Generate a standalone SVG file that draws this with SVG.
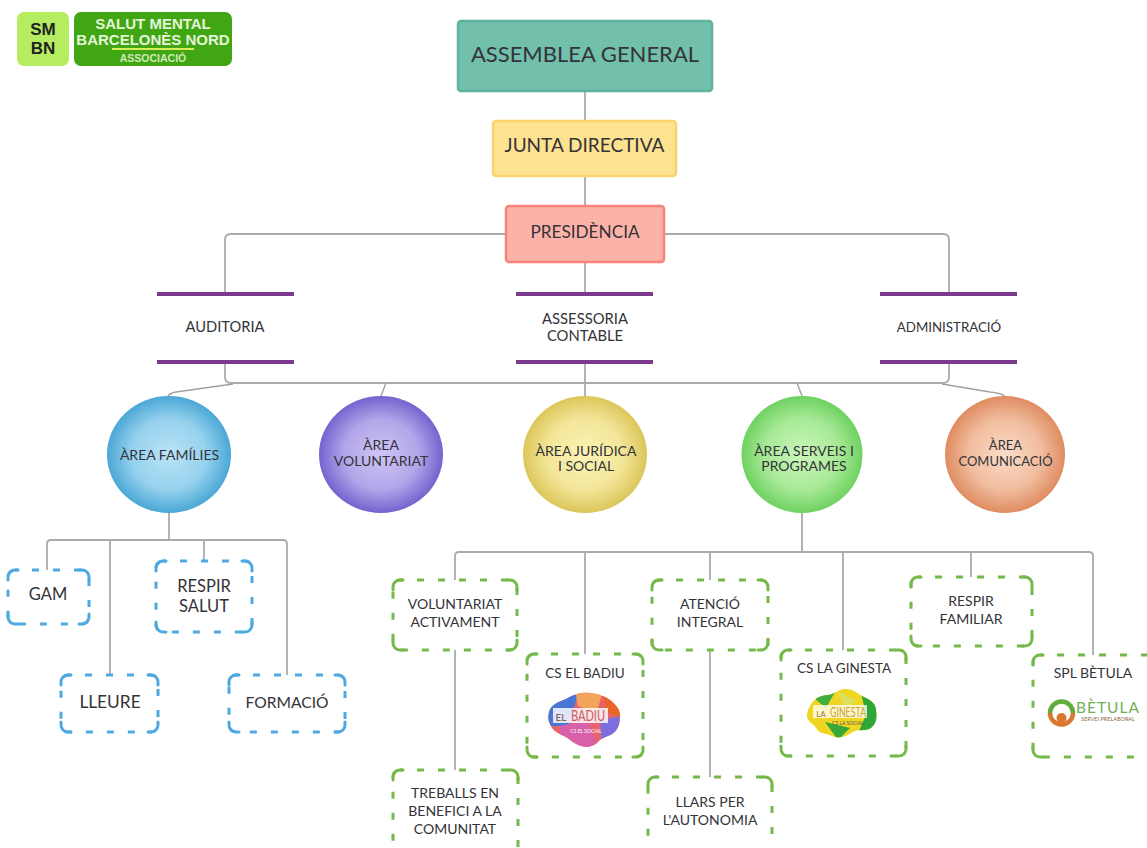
<svg xmlns="http://www.w3.org/2000/svg" width="1147" height="848" viewBox="0 0 1147 848">
<style>
text{font-family:"Lato","Open Sans","Liberation Sans",sans-serif;fill:#333338;text-anchor:middle}
.conn{fill:none;stroke:#ababab;stroke-width:1.8}
.thin{fill:none;stroke:#a0a0a0;stroke-width:1.4}
.bar{stroke:#7b3a8c;stroke-width:4}
.d{fill:#fff;stroke-width:3;stroke-dasharray:7 14;stroke-dashoffset:-17}
.c{fill:none;stroke-width:3;stroke-linecap:round}
.b{stroke:#4ea9e2}
.g{stroke:#74b94a}
.t14{font-size:14px}
.t16{font-size:16.5px}
.la{font-family:"Liberation Sans",Arial,sans-serif;font-weight:700}
</style>
<defs>
<radialGradient id="gb"><stop offset="0" stop-color="#b9e3f6"/><stop offset=".6" stop-color="#96d2ee"/><stop offset="1" stop-color="#4ba7d6"/></radialGradient>
<radialGradient id="gv"><stop offset="0" stop-color="#cfc5f5"/><stop offset=".6" stop-color="#b2a5e9"/><stop offset="1" stop-color="#7563cf"/></radialGradient>
<radialGradient id="gy"><stop offset="0" stop-color="#fbf3b4"/><stop offset=".6" stop-color="#f3e69a"/><stop offset="1" stop-color="#dcc65a"/></radialGradient>
<radialGradient id="gg"><stop offset="0" stop-color="#caf5bb"/><stop offset=".6" stop-color="#a9ea98"/><stop offset="1" stop-color="#6fd161"/></radialGradient>
<radialGradient id="go"><stop offset="0" stop-color="#fbdcc9"/><stop offset=".6" stop-color="#f1bd9f"/><stop offset="1" stop-color="#df8c60"/></radialGradient>
<clipPath id="cb"><path d="M549 712c2-8 10-10 17-13 7-4 14-7 24-6 9 1 14 3 20 7 6 5 10 9 10 16 0 8-2 14-8 18-5 3-9 3-13 7-4 5-12 7-18 5-7-2-11-7-17-10-7-3-12-6-14-12-2-4-2-8-1-12z"/></clipPath>
<clipPath id="cg"><path d="M810 706c3-6 9-11 18-11 7-1 11-7 19-6 8 1 11 5 17 8 7 3 12 7 12 13 1 7 1 13-5 18-6 4-14 0-20 5-6 4-12 6-19 3-7-3-13-2-16-8-3-5-9-6-9-12 0-4 1-7 3-10z"/></clipPath>
</defs>

<g id="logo">
<rect x="17" y="12" width="52" height="54" rx="7" fill="#b6ec60"/>
<rect x="74" y="12" width="158" height="54" rx="7" fill="#40a613"/>
<text class="la" x="43" y="35" style="font-size:17px;fill:#222">SM</text>
<text class="la" x="43" y="54" style="font-size:17px;fill:#222">BN</text>
<text class="la" x="153" y="29" style="font-size:15px;fill:#e6f5d8">SALUT MENTAL</text>
<text class="la" x="153" y="45" style="font-size:15px;fill:#e6f5d8">BARCELONÈS NORD</text>
<rect x="112" y="48" width="82" height="2" fill="#d6ee5a"/>
<text class="la" x="153" y="62" style="font-size:10.500px;fill:#cfe9b8">ASSOCIACIÓ</text>
</g>

<g id="connectors">
<path class="conn" d="M585 91V121M585 176V206M585 262V294M585 362V397"/>
<path class="conn" d="M506 234H231Q225 234 225 240V294M664 234H943Q949 234 949 240V294"/>
<path class="conn" d="M225 362V377Q225 383 231 383H943Q949 383 949 377V362"/>
<path class="thin" d="M233 384L176 392Q170 393 168 396M386 383L381 396M797 383L802 396M942 384L990 392Q1000 393 1005 396"/>
<path class="conn" d="M169 513V540M47 570V544Q47 540 51 540H283Q287 540 287 544V675M110 540V675M204 540V561"/>
<path class="conn" d="M802 513V552M455 580V556Q455 552 459 552H1089Q1093 552 1093 556V655M585 552V654M710 552V580M843 552V650M971 552V577M455 650V770M710 650V777"/>
</g>

<g id="assemblea"><rect x="458" y="21" width="254" height="70" rx="3" fill="#72bfac" stroke="#5fb29e" stroke-width="2.5"/><text x="585" y="62" style="font-size:22px">ASSEMBLEA GENERAL</text></g>
<g id="junta"><rect x="493" y="121" width="183" height="55" rx="3" fill="#fde28f" stroke="#fad36f" stroke-width="2.5"/><text x="584.500" y="152" style="font-size:19px">JUNTA DIRECTIVA</text></g>
<g id="presidencia"><rect x="506" y="206" width="158" height="56" rx="3" fill="#fdb2a8" stroke="#f8837a" stroke-width="2.5"/><text x="585" y="238" style="font-size:17.200px">PRESIDÈNCIA</text></g>

<g id="auditoria"><path class="bar" d="M157 294H294M157 362H294"/><text x="225" y="332" style="font-size:14.700px">AUDITORIA</text></g>
<g id="assessoria"><path class="bar" d="M516 294H653M516 362H653"/><text x="585" y="324" style="font-size:14.800px">ASSESSORIA</text><text x="585" y="341" style="font-size:14.800px">CONTABLE</text></g>
<g id="administracio"><path class="bar" d="M880 294H1017M880 362H1017"/><text x="949" y="332" style="font-size:13.300px">ADMINISTRACIÓ</text></g>

<g id="area-families"><ellipse cx="169" cy="454.500" rx="62" ry="58.500" fill="url(#gb)"/><text class="t14" x="169.500" y="460">ÀREA FAMÍLIES</text></g>
<g id="area-voluntariat"><ellipse cx="381" cy="454.500" rx="62" ry="58.500" fill="url(#gv)"/><text class="t14" x="381" y="450">ÀREA</text><text class="t14" x="381" y="466">VOLUNTARIAT</text></g>
<g id="area-juridica"><ellipse cx="585" cy="454.500" rx="62" ry="58.500" fill="url(#gy)"/><text class="t14" x="586" y="456">ÀREA JURÍDICA</text><text class="t14" x="586" y="471">I SOCIAL</text></g>
<g id="area-serveis"><ellipse cx="802" cy="454.500" rx="60.500" ry="58.500" fill="url(#gg)"/><text class="t14" x="804" y="456">ÀREA SERVEIS I</text><text class="t14" x="804" y="471">PROGRAMES</text></g>
<g id="area-comunicacio"><ellipse cx="1005" cy="454.500" rx="60" ry="58.500" fill="url(#go)"/><text x="1005.500" y="450" style="font-size:13px">ÀREA</text><text x="1005.500" y="466" style="font-size:13px">COMUNICACIÓ</text></g>

<g id="gam"><rect class="d b" x="8" y="570" width="81" height="54" rx="7"/><path class="c b" d="M8 580V577A7 7 0 0 1 15 570H18M79 570H82A7 7 0 0 1 89 577V580M89 614V617A7 7 0 0 1 82 624H79M18 624H15A7 7 0 0 1 8 617V614"/><text class="t16" x="48" y="600">GAM</text></g>
<g id="respir-salut"><rect class="d b" x="156" y="561" width="96" height="71" rx="7"/><path class="c b" d="M156 571V568A7 7 0 0 1 163 561H166M242 561H245A7 7 0 0 1 252 568V571M252 622V625A7 7 0 0 1 245 632H242M166 632H163A7 7 0 0 1 156 625V622"/><text class="t16" x="204" y="592">RESPIR</text><text class="t16" x="204" y="612">SALUT</text></g>
<g id="lleure"><rect class="d b" x="61" y="675" width="97" height="57" rx="7"/><path class="c b" d="M61 685V682A7 7 0 0 1 68 675H71M148 675H151A7 7 0 0 1 158 682V685M158 722V725A7 7 0 0 1 151 732H148M71 732H68A7 7 0 0 1 61 725V722"/><text x="110" y="708" style="font-size:17.300px">LLEURE</text></g>
<g id="formacio"><rect class="d b" x="229" y="675" width="116" height="57" rx="7"/><path class="c b" d="M229 685V682A7 7 0 0 1 236 675H239M335 675H338A7 7 0 0 1 345 682V685M345 722V725A7 7 0 0 1 338 732H335M239 732H236A7 7 0 0 1 229 725V722"/><text x="287" y="708" style="font-size:15.600px">FORMACIÓ</text></g>

<g id="voluntariat-activament"><rect class="d g" x="393" y="580" width="124" height="70" rx="7"/><path class="c g" d="M393 590V587A7 7 0 0 1 400 580H403M507 580H510A7 7 0 0 1 517 587V590M517 640V643A7 7 0 0 1 510 650H507M403 650H400A7 7 0 0 1 393 643V640"/><text class="t14" x="455" y="609">VOLUNTARIAT</text><text class="t14" x="455" y="627">ACTIVAMENT</text></g>
<g id="treballs"><rect class="d g" x="393" y="770" width="125" height="95" rx="7"/><path class="c g" d="M393 780V777A7 7 0 0 1 400 770H403M508 770H511A7 7 0 0 1 518 777V780"/><text class="t14" x="455" y="798">TREBALLS EN</text><text class="t14" x="455" y="816">BENEFICI A LA</text><text class="t14" x="455" y="834">COMUNITAT</text></g>

<g id="cs-badiu"><rect class="d g" x="527" y="654" width="116" height="103" rx="7"/><path class="c g" d="M527 664V661A7 7 0 0 1 534 654H537M633 654H636A7 7 0 0 1 643 661V664M643 747V750A7 7 0 0 1 636 757H633M537 757H534A7 7 0 0 1 527 750V747"/><text x="585" y="678" style="font-size:13.500px">CS EL BADIU</text>
<g clip-path="url(#cb)"><rect x="545" y="690" width="80" height="60" fill="#e8636e"/><path d="M548 695H578L568 726H545z" fill="#4a76d6"/><path d="M575 690H603L597 712 578 706z" fill="#f2a45c"/><path d="M602 690H625V720L606 712z" fill="#e9662a"/><path d="M560 726L588 720 598 750H560z" fill="#d860a8"/><path d="M600 720L622 716 615 748H602z" fill="#7d6ee0"/></g>
<rect x="553" y="708" width="55" height="15" fill="#fff" fill-opacity=".82"/><text x="561" y="721" style="font-size:10px;fill:#7b4a3a">EL</text><text x="588" y="721" textLength="34" lengthAdjust="spacingAndGlyphs" style="font-size:15px;fill:#c75a6a">BADIU</text><text x="586" y="733" style="font-size:5px;fill:#fff">CS EL SOCIAL</text></g>

<g id="atencio-integral"><rect class="d g" x="652" y="580" width="116" height="70" rx="7"/><path class="c g" d="M652 590V587A7 7 0 0 1 659 580H662M758 580H761A7 7 0 0 1 768 587V590M768 640V643A7 7 0 0 1 761 650H758M662 650H659A7 7 0 0 1 652 643V640"/><text class="t14" x="710" y="609">ATENCIÓ</text><text class="t14" x="710" y="627">INTEGRAL</text></g>
<g id="llars"><rect class="d g" x="648" y="777" width="124" height="90" rx="7"/><path class="c g" d="M648 787V784A7 7 0 0 1 655 777H658M762 777H765A7 7 0 0 1 772 784V787"/><text class="t14" x="710" y="807">LLARS PER</text><text class="t14" x="710" y="825">L'AUTONOMIA</text></g>

<g id="cs-ginesta"><rect class="d g" x="781" y="650" width="125" height="106" rx="7"/><path class="c g" d="M781 660V657A7 7 0 0 1 788 650H791M896 650H899A7 7 0 0 1 906 657V660M906 746V749A7 7 0 0 1 899 756H896M791 756H788A7 7 0 0 1 781 749V746"/><text x="844" y="673" style="font-size:13.500px">CS LA GINESTA</text>
<g clip-path="url(#cg)"><rect x="800" y="685" width="85" height="55" fill="#f0d622"/><path d="M860 688H880V740H855L866 715z" fill="#2da838"/><path d="M810 695L835 692 826 708z" fill="#3fae3a"/><path d="M825 722L850 728 838 740z" fill="#38a838"/><path d="M838 692L856 700 845 710z" fill="#dbe05a"/></g>
<rect x="813" y="705" width="54" height="13" fill="#fff" fill-opacity=".75"/><text x="821" y="717" style="font-size:8px;fill:#9a7a3a">LA</text><text x="848" y="717" textLength="36" lengthAdjust="spacingAndGlyphs" style="font-size:13.500px;fill:#c9a23a">GINESTA</text><text x="848" y="725" style="font-size:5px;fill:#555">CS LA SOCIAL</text></g>

<g id="respir-familiar"><rect class="d g" x="911" y="577" width="121" height="69" rx="7"/><path class="c g" d="M911 587V584A7 7 0 0 1 918 577H921M1022 577H1025A7 7 0 0 1 1032 584V587M1032 636V639A7 7 0 0 1 1025 646H1022M921 646H918A7 7 0 0 1 911 639V636"/><text class="t14" x="971" y="606">RESPIR</text><text class="t14" x="971" y="624">FAMILIAR</text></g>

<g id="spl-betula"><rect class="d g" x="1033" y="655" width="130" height="102" rx="7"/><path class="c g" d="M1033 665V662A7 7 0 0 1 1040 655H1043M1043 757H1040A7 7 0 0 1 1033 750V747"/><text x="1093" y="678" style="font-size:14px">SPL BÈTULA</text>
<path d="M1050 713A11.500 11.500 0 0 1 1073 713" fill="none" stroke="#5fae3c" stroke-width="4.500"/><path d="M1050 713A11.500 11.500 0 0 0 1073 713" fill="none" stroke="#d9772f" stroke-width="4.500"/><circle cx="1061.500" cy="718" r="5" fill="#d9772f"/>
<text x="1108" y="713" style="font-size:15.500px;fill:#6fb05a;letter-spacing:1px">BÈTULA</text><text x="1108" y="721" style="font-size:5.500px;fill:#8a6a4a">SERVEI PRELABORAL</text></g>
</svg>
